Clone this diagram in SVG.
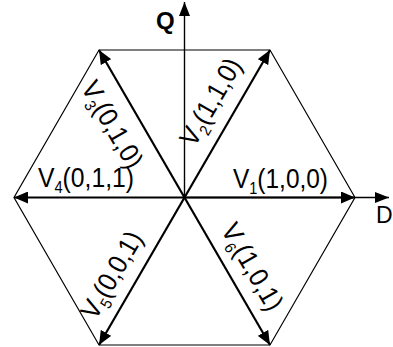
<svg xmlns="http://www.w3.org/2000/svg" width="393" height="347" viewBox="0 0 393 347">
<style>
.hex{stroke:#000;stroke-width:1.2;fill:none}
.vec{stroke:#000;stroke-width:2.2;fill:none;marker-end:url(#ah)}
.ax{stroke:#000;stroke-width:1.4;fill:none;marker-end:url(#ax)}
.lbl{font-family:"Liberation Sans",Arial,sans-serif;font-size:27px;fill:#000}
.sub{font-size:16px}
.q{font-family:"Liberation Sans",Arial,sans-serif;font-size:24px;font-weight:bold;fill:#000}
.d{font-family:"Liberation Sans",Arial,sans-serif;font-size:23px;fill:#000}
</style>
<defs>
<marker id="ah" markerUnits="userSpaceOnUse" markerWidth="14" markerHeight="12" refX="14" refY="6" orient="auto"><path d="M0,0 L14,6 L0,12 z" fill="#000"/></marker>
<marker id="ax" markerUnits="userSpaceOnUse" markerWidth="14" markerHeight="11" refX="14" refY="5.5" orient="auto"><path d="M0,0 L14,5.5 L0,11 z" fill="#000"/></marker>
</defs>
<g id="hexagon">
<polygon class="hex" points="355,197.5 270,50 99,50 14,197.5 99,345 270,345"/>
</g>
<g id="axes">
<line class="ax" x1="184.5" y1="197.5" x2="184.5" y2="2"/>
<line class="ax" x1="184.5" y1="197.5" x2="389" y2="197.5"/>
</g>
<g id="connectors">
<line class="vec" x1="184.5" y1="197.5" x2="355" y2="197.5"/>
<line class="vec" x1="184.5" y1="197.5" x2="270" y2="50"/>
<line class="vec" x1="184.5" y1="197.5" x2="99" y2="50"/>
<line class="vec" x1="184.5" y1="197.5" x2="14" y2="197.5"/>
<line class="vec" x1="184.5" y1="197.5" x2="99" y2="345"/>
<line class="vec" x1="184.5" y1="197.5" x2="270" y2="345"/>
</g>
<g id="axis-labels">
<text class="q" x="156" y="29">Q</text>
<text class="d" x="376" y="223">D</text>
</g>
<g id="V1"><text class="lbl" x="233" y="188" textLength="95" lengthAdjust="spacingAndGlyphs">V<tspan class="sub" dy="6">1</tspan><tspan dy="-6">(1,0,0)</tspan></text></g>
<g id="V4"><text class="lbl" x="38" y="187" textLength="96" lengthAdjust="spacingAndGlyphs">V<tspan class="sub" dy="6">4</tspan><tspan dy="-6">(0,1,1)</tspan></text></g>
<g id="V2"><text class="lbl" transform="translate(194.6,147.9) rotate(-60)" textLength="96" lengthAdjust="spacingAndGlyphs">V<tspan class="sub" dy="6">2</tspan><tspan dy="-6">(1,1,0)</tspan></text></g>
<g id="V3"><text class="lbl" transform="translate(80.4,87.5) rotate(60)" textLength="96" lengthAdjust="spacingAndGlyphs">V<tspan class="sub" dy="6">3</tspan><tspan dy="-6">(0,1,0)</tspan></text></g>
<g id="V5"><text class="lbl" transform="translate(95.5,321) rotate(-60)" textLength="96" lengthAdjust="spacingAndGlyphs">V<tspan class="sub" dy="6">5</tspan><tspan dy="-6">(0,0,1)</tspan></text></g>
<g id="V6"><text class="lbl" transform="translate(220.5,229.8) rotate(60)" textLength="96" lengthAdjust="spacingAndGlyphs">V<tspan class="sub" dy="6">6</tspan><tspan dy="-6">(1,0,1)</tspan></text></g>
</svg>
